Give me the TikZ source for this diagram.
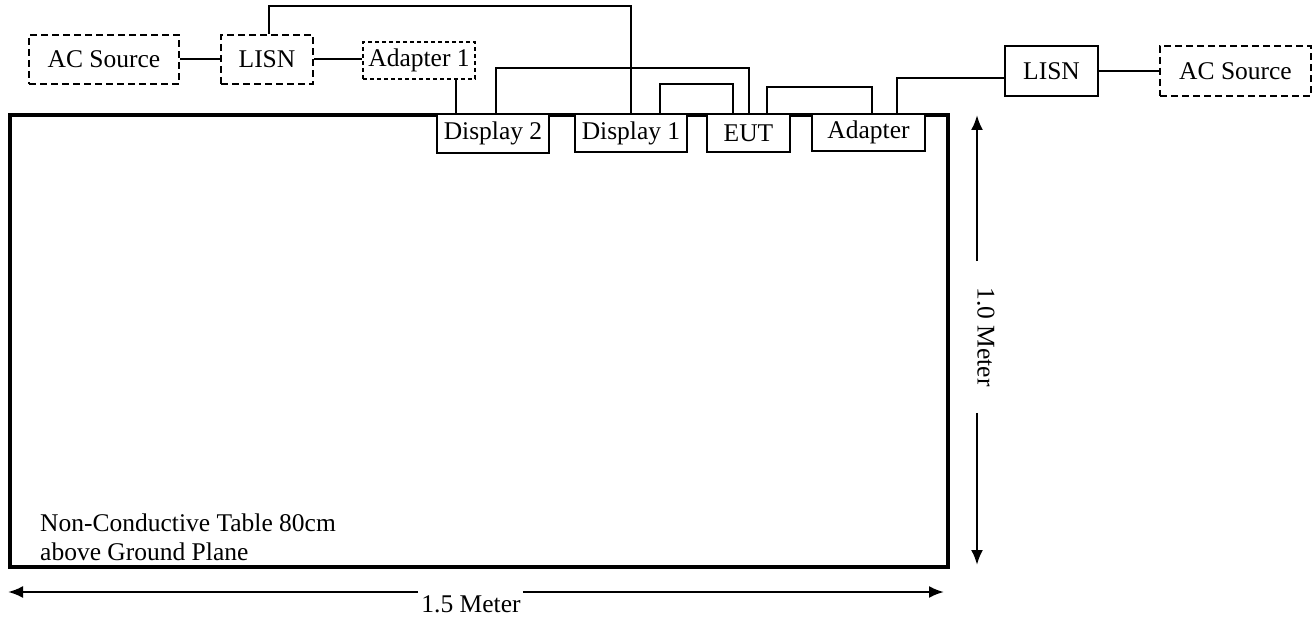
\documentclass[tikz,border=0pt]{standalone}
\usepackage{fontspec}
\setmainfont{Liberation Serif}
\usetikzlibrary{arrows.meta}

\begin{document}
\begin{tikzpicture}[x=1pt, y=-1pt,
    every node/.style = {font=\fontsize{25.5}{29}\selectfont, inner sep=0pt},
    box/.style = {draw, line width=1.6pt},
    dbox/.style = {draw, line width=2.2pt, dash pattern=on 7pt off 4pt},
    sbox/.style = {draw, line width=1.4pt, dash pattern=on 4pt off 3pt},
    wire/.style = {line width=2pt},
    dim/.style = {line width=2.4pt, -{Latex[length=15pt,width=12pt]}}]
                \useasboundingbox (0,0) rectangle (1314,617);
                \node[draw, line width=4pt, minimum width=938pt, minimum height=452pt] (tab) at (479,341) {};
                \node[align=left, anchor=west] (lbl) at (40,537) {Non-Conductive Table 80cm\\above Ground Plane};
                \node[dbox, minimum width=150pt, minimum height=49pt] (acl) at (104,59.5) {AC Source};
                \node[dbox, minimum width=92pt, minimum height=49pt] (lisnl) at (267,59.5) {LISN};
                \node[sbox, minimum width=112pt, minimum height=37pt] (ad1) at (419,60.5) {Adapter 1};
                \node[box, fill=white, minimum width=112pt, minimum height=39pt] (d2) at (493,133.5) {Display 2};
                \node[box, fill=white, minimum width=112pt, minimum height=38pt] (d1) at (631,133) {Display 1};
                \node[box, fill=white, minimum width=83pt, minimum height=38pt] (eut) at (748.5,133) {EUT};
                \node[box, fill=white, minimum width=113pt, minimum height=37pt] (adp) at (868.5,132.5) {Adapter};
                \node[box, minimum width=93pt, minimum height=50pt] (lisnr) at (1051.5,71) {LISN};
                \node[dbox, minimum width=151pt, minimum height=50pt] (acr) at (1235.5,71) {AC Source};
                \draw[wire] (acl) -- (lisnl);
                \draw[wire] (lisnl) -- (ad1.west |- lisnl);
                \draw[wire] ([xshift=37pt]ad1.south) -- ++(0,35);
                \draw[wire] ([xshift=3pt]d2.north) -- ++(0,-45) -| (eut.north);
                \draw[wire] (d1.north) -- ++(0,-107) -| ([xshift=2pt]lisnl.north);
                \draw[wire] ([xshift=29pt]d1.north) -- ++(0,-29) -| ([xshift=-16pt]eut.north);
                \draw[wire] ([xshift=18pt]eut.north) -- ++(0,-26) -| ([xshift=3pt]adp.north);
                \draw[wire] ([xshift=28pt]adp.north) |- ([yshift=-7pt]lisnr.west);
                \draw[wire] (lisnr.east) -- (acr.west |- lisnr.east);
                \node (hdim) at (471,604) {1.5 Meter};
                \coordinate (hl) at (8,592);
                \coordinate (hr) at (944,592);
                \draw[dim] ([xshift=-3pt]hdim.west |- hl) -- (hl);
                \draw[dim] ([xshift=2pt]hdim.east |- hr) -- (hr);
                \node[rotate=-90, inner xsep=26pt] (vdim) at (986,337) {1.0 Meter};
                \coordinate (vt) at (977,115);
                \coordinate (vb) at (977,565);
                \draw[dim] (vdim.west -| vt) -- (vt);
                \draw[dim] (vdim.east -| vb) -- (vb);
            \end{tikzpicture}
\end{document}
